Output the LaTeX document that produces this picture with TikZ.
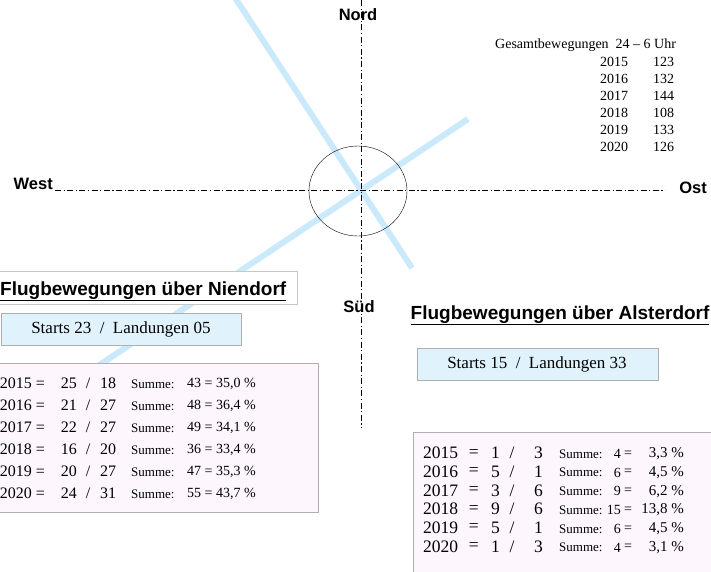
\documentclass[tikz,border=0pt]{standalone}
\usepackage{fontspec}
\setmainfont{Liberation Serif}
\setsansfont{Liberation Sans}
\definecolor{runwayblue}{RGB}{202,233,250}
\definecolor{startsblue}{RGB}{224,243,252}
\definecolor{tablepink}{RGB}{253,246,253}
\definecolor{boxgray}{RGB}{175,175,175}
\tikzset{
  axisline/.style={line width=1pt, dash pattern=on 6pt off 2.5pt on 1.2pt off 2.5pt},
  runway/.style={line width=6pt, draw=runwayblue},
  compass/.style={font=\sffamily\bfseries\fontsize{16.5}{18}\selectfont, inner sep=1pt},
  titletext/.style={font=\sffamily\bfseries\fontsize{19}{21}\selectfont, inner sep=0pt, anchor=base west},
  startsbox/.style={fill=startsblue, draw=boxgray, line width=0.6pt},
  tablebox/.style={fill=tablepink, draw=boxgray, line width=0.6pt},
  startstext/.style={font=\fontsize{17}{19}\selectfont, inner sep=0pt},
  sumtext/.style={font=\fontsize{13}{15}\selectfont, inner sep=0pt},
  sumnum/.style={font=\fontsize{14}{16}\selectfont, inner sep=0pt},
  gesamt/.style={font=\fontsize{14}{16}\selectfont, inner sep=0pt, anchor=west}
}
\begin{document}
\begin{tikzpicture}[x=1pt, y=-1pt]
  \useasboundingbox (0,0) rectangle (711,571);
  % runways
  \draw[runway] (230,-10) -- (412,268);
  \draw[runway] (468,119) -- (95,368);
  % compass axes
  \coordinate (ntop) at (361,0);
  \coordinate (sbot) at (361,428);
  \coordinate (wend) at (55,190);
  \coordinate (oend) at (665,190);
  \draw (358,191) ellipse [x radius=49pt, y radius=45pt];
  \draw[axisline] (ntop) -- (sbot);
  \draw[axisline] (wend) -- (oend);
  \node[compass] (nord) at (358,15) {Nord};
  \node[compass, fill=white] (sued) at (359,307) {Süd};
  \node[compass, anchor=base east] (west) at (54,189) {West};
  \node[compass] (ost) at (693,188) {Ost};
  % Gesamtbewegungen
  \node[gesamt] (gtitle) at (495,45) {Gesamtbewegungen\ \ 24 -- 6 Uhr};
  \foreach \yr/\n [count=\i from 0] in {2015/123,2016/132,2017/144,2018/108,2019/133,2020/126}{
    \node[gesamt] (gy\i) at (600,62+17*\i) {\yr};
    \node[gesamt] (gn\i) at (653,62+17*\i) {\n};
  }
  % Niendorf
  \fill[white] (-2,271) rectangle (297,304);
  \draw[draw=boxgray!70] (-2,271) rectangle (297,304);
  \node[titletext] (ntitle) at (0,295) {\underline{Flugbewegungen über Niendorf}};
  \draw[startsbox] (1,313) rectangle (241,345);
  \node[startstext] (nstarts) at (121,329) {Starts 23~~/~~Landungen 05};
  \draw[tablebox] (-2,363) rectangle (318,512);
  \foreach \yr/\a/\b/\s/\p [count=\i from 0] in {2015/25/18/43/{35,0},2016/21/27/48/{36,4},2017/22/27/49/{34,1},2018/16/20/36/{33,4},2019/20/27/47/{35,3},2020/24/31/55/{43,7}}{
    \node[startstext, font=\fontsize{16}{18}\selectfont, anchor=east] (ny\i) at (45,383+22*\i) {\yr\ =};
    \node[startstext, font=\fontsize{16}{18}\selectfont, anchor=east] (na\i) at (77,383+22*\i) {\a};
    \node[startstext, font=\fontsize{16}{18}\selectfont] (nsl\i) at (88,383+22*\i) {/};
    \node[startstext, font=\fontsize{16}{18}\selectfont, anchor=west] (nb\i) at (100,383+22*\i) {\b};
    \node[sumtext, anchor=west] (nsu\i) at (131,384+22*\i) {Summe:};
    \node[sumnum, anchor=west] (ns\i) at (187,384+22*\i) {\s\ =\ \p\ \%};
  }
  % Alsterdorf
  \node[titletext] (atitle) at (410.5,319) {\underline{Flugbewegungen über Alsterdorf}};
  \draw[startsbox] (417,348) rectangle (658,380);
  \node[startstext] (astarts) at (537,364) {Starts 15~~/~~Landungen 33};
  \draw[tablebox] (413,432) rectangle (720,580);
  \foreach \yr/\a/\b/\s/\p [count=\i from 0] in {2015/1/3/4/{3,3},2016/5/1/6/{4,5},2017/3/6/9/{6,2},2018/9/6/15/{13,8},2019/5/1/6/{4,5},2020/1/3/4/{3,1}}{
    \node[startstext, font=\fontsize{17.5}{19}\selectfont, anchor=west] (ay\i) at (423,453+18.7*\i) {\yr};
    \node[startstext, font=\fontsize{17.5}{19}\selectfont, anchor=east] (aeq\i) at (479,453+18.7*\i) {=};
    \node[startstext, font=\fontsize{17.5}{19}\selectfont, anchor=east] (aa\i) at (500,453+18.7*\i) {\a};
    \node[startstext, font=\fontsize{17.5}{19}\selectfont] (asl\i) at (512,453+18.7*\i) {/};
    \node[startstext, font=\fontsize{17.5}{19}\selectfont, anchor=east] (ab\i) at (543,453+18.7*\i) {\b};
    \node[sumtext, anchor=west] (asu\i) at (559,454+18.7*\i) {Summe:};
    \node[sumnum, anchor=east] (as\i) at (621,454+18.7*\i) {\s};
    \node[sumnum] (ase\i) at (628,454+18.7*\i) {=};
    \node[sumnum, font=\fontsize{15}{17}\selectfont, anchor=east] (ap\i) at (684,454+18.7*\i) {\p~\%};
  }
\end{tikzpicture}
\end{document}
